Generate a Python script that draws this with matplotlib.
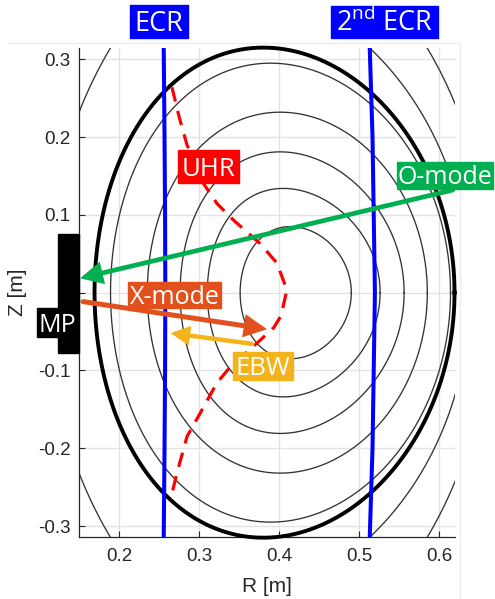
import numpy as np
import matplotlib
matplotlib.use("Agg")
import matplotlib.pyplot as plt
from matplotlib.patches import Rectangle
from matplotlib.lines import Line2D

# ---------------- data ----------------
# closed flux surfaces inside the separatrix (inner R, outer R, half height, R at top)
surf_Rin = [0.351, 0.310, 0.276, 0.235, 0.189]
surf_Rout = [0.490, 0.526, 0.556, 0.585, 0.614]
surf_Zh = [0.085, 0.134, 0.181, 0.232, 0.295]
surf_Rtop = [0.414, 0.405, 0.401, 0.401, 0.389]

# last closed flux surface (thick)
lcfs = dict(Rin=0.169, Rout=0.619, Zh=0.315, Rtop=0.380)

# open (clipped) outer flux surfaces: centre R, half width, half height
open_R0 = [0.30, 0.30, 0.50]
open_a = [0.338, 0.365, 0.392]
open_b = [0.405, 0.503, 0.517]

# ECR resonance layers
ecr_Z = [-0.315, -0.2, -0.1, 0.0, 0.1, 0.2, 0.315]
ecr1_R = [0.2555, 0.2565, 0.2572, 0.2575, 0.2572, 0.2565, 0.2555]
ecr2_R = [0.513, 0.5165, 0.518, 0.5195, 0.518, 0.5165, 0.513]

# upper hybrid resonance
uhr_Z = [0.264, 0.225, 0.190, 0.140, 0.1146, 0.093, 0.063, 0.038, 0.0035,
         -0.030, -0.045, -0.065, -0.095, -0.116, -0.155, -0.185, -0.232, -0.266]
uhr_R = [0.2658, 0.275, 0.2846, 0.3054, 0.322, 0.343, 0.376, 0.397, 0.4095,
         0.402, 0.393, 0.372, 0.339, 0.322, 0.301, 0.2846, 0.272, 0.264]

# beams (start R, Z) -> (tip R, Z)
omode_start, omode_tip = (0.616, 0.1317), (0.151, 0.0185)
xmode_start, xmode_tip = (0.1546, -0.0115), (0.3846, -0.047)
ebw_start, ebw_tip = (0.366, -0.0658), (0.264, -0.052)

xticks = [0.2, 0.3, 0.4, 0.5, 0.6]
yticks = [-0.3, -0.2, -0.1, 0.0, 0.1, 0.2, 0.3]

# ---------------- figure ----------------
W, H = 495, 599
plt.rcParams['font.family'] = ['Liberation Sans', 'DejaVu Sans']
plt.rcParams['axes.unicode_minus'] = False
plt.rcParams['mathtext.fontset'] = 'custom'
plt.rcParams['mathtext.rm'] = 'Open Sans'

fig = plt.figure(figsize=(W / 100, H / 100), dpi=100)
ax = fig.add_axes([79 / W, 1 - 537.3 / H, (455 - 79) / W, (537.3 - 48) / H])
ax.set_xlim(0.1496, 0.6196)
ax.set_ylim(-0.3145, 0.3145)

ax.set_xticks(xticks)
ax.set_yticks(yticks)
ax.set_xticklabels([f"{v:.1f}" for v in xticks])
ax.set_yticklabels(["0" if abs(v) < 1e-9 else f"{v:.1f}" for v in yticks])
ax.tick_params(direction='in', length=4, width=0.8, colors='#262626', labelsize=13.5)
ax.tick_params(axis='x', pad=8)
ax.tick_params(axis='y', pad=6)
ax.grid(True, color='#e3e3e3', lw=1.0, zorder=0)
ax.set_axisbelow(True)
for s in ['top', 'right']:
    ax.spines[s].set_visible(False)
for s in ['left', 'bottom']:
    ax.spines[s].set_color('#262626')
    ax.spines[s].set_linewidth(0.9)


def surface(Rin, Rout, Zh, Rtop, n=600):
    R0 = (Rin + Rout) / 2
    a = (Rout - Rin) / 2
    delta = np.arcsin((R0 - Rtop) / a)
    th = np.linspace(0, 2 * np.pi, n)
    return R0 + a * np.cos(th + delta * np.sin(th)), Zh * np.sin(th)


for Rin, Rout, Zh, Rt in zip(surf_Rin, surf_Rout, surf_Zh, surf_Rtop):
    R, Z = surface(Rin, Rout, Zh, Rt)
    ax.plot(R, Z, color='#333333', lw=0.95, zorder=2)

th = np.linspace(0, 2 * np.pi, 800)
for R0, a, b in zip(open_R0, open_a, open_b):
    ax.plot(R0 + a * np.cos(th), b * np.sin(th), color='#333333', lw=0.95, zorder=2)

R, Z = surface(lcfs['Rin'], lcfs['Rout'], lcfs['Zh'], lcfs['Rtop'])
ax.plot(R, Z, color='black', lw=2.8, zorder=3, clip_on=False)

ax.plot(ecr1_R, ecr_Z, color='#0000ff', lw=2.9, zorder=4, solid_capstyle='butt')
ax.plot(ecr2_R, ecr_Z, color='#0000ff', lw=2.9, zorder=4, solid_capstyle='butt')

ax.plot(uhr_R, uhr_Z, color='#ff0000', lw=2.3, dashes=(4.6, 3.0), zorder=5)


def arrow(start, tip, color, lw, hl, hw):
    ax.annotate('', xy=tip, xytext=start, annotation_clip=False, zorder=6,
                arrowprops=dict(arrowstyle=f'-|>,head_length={hl},head_width={hw}',
                                color=color, lw=lw, shrinkA=0, shrinkB=0,
                                mutation_scale=1, joinstyle='miter'))


arrow(omode_start, omode_tip, '#00b050', 3.4, 11, 5.5)
arrow(xmode_start, xmode_tip, '#e2501d', 3.6, 11, 5.5)
arrow(ebw_start, ebw_tip, '#f4b31a', 3.2, 9, 4.5)

# axis labels
fig.text(266.7 / W, 1 - 586 / H, 'R [m]', ha='center', va='center', fontsize=15, color='#262626')
fig.text(17.5 / W, 1 - 292 / H, 'Z [m]', ha='center', va='center', rotation=90,
         fontsize=15, color='#262626')

# MP block
fig.patches.append(Rectangle((57.7 / W, 1 - 353.3 / H), (79 - 57.7) / W, (353.3 - 234) / H,
                             transform=fig.transFigure, color='black', zorder=9))


def box_label(cx, cy, w, h, text, color, fs=18):
    fig.patches.append(Rectangle(((cx - w / 2) / W, 1 - (cy + h / 2) / H), w / W, h / H,
                                 transform=fig.transFigure, color=color, zorder=10))
    cap = 0.714 * fs * 100 / 72
    fig.text(cx / W, 1 - (cy + cap / 2) / H, text, color='white', ha='center', va='baseline',
             fontsize=fs, family=['Open Sans', 'DejaVu Sans'], zorder=11)


box_label(159, 21.3, 58, 32.5, 'ECR', '#0000ff', fs=19.5)
box_label(384.7, 21.8, 107, 32, r'2$^{\mathrm{nd}}$ ECR', '#0000ff', fs=19.5)
box_label(208.5, 166.5, 61, 33, 'UHR', '#ff0000', fs=18.5)
box_label(445, 175.5, 96.6, 27.6, 'O-mode', '#00b050')
box_label(174.5, 295, 92.4, 26.6, 'X-mode', '#e2501d')
box_label(263, 365.8, 59.4, 28.3, 'EBW', '#f4b31a', fs=18.5)
box_label(57.5, 322.8, 40.4, 29, 'MP', 'black')

# faint frame of the original image
fig.add_artist(Line2D([8 / W, 460 / W], [1 - 43 / H, 1 - 43 / H], transform=fig.transFigure,
                      color='#ececec', lw=1))
fig.add_artist(Line2D([460 / W, 460 / W], [1 - 43 / H, 0], transform=fig.transFigure,
                      color='#ececec', lw=1))

fig.savefig('out.png', dpi=100)
